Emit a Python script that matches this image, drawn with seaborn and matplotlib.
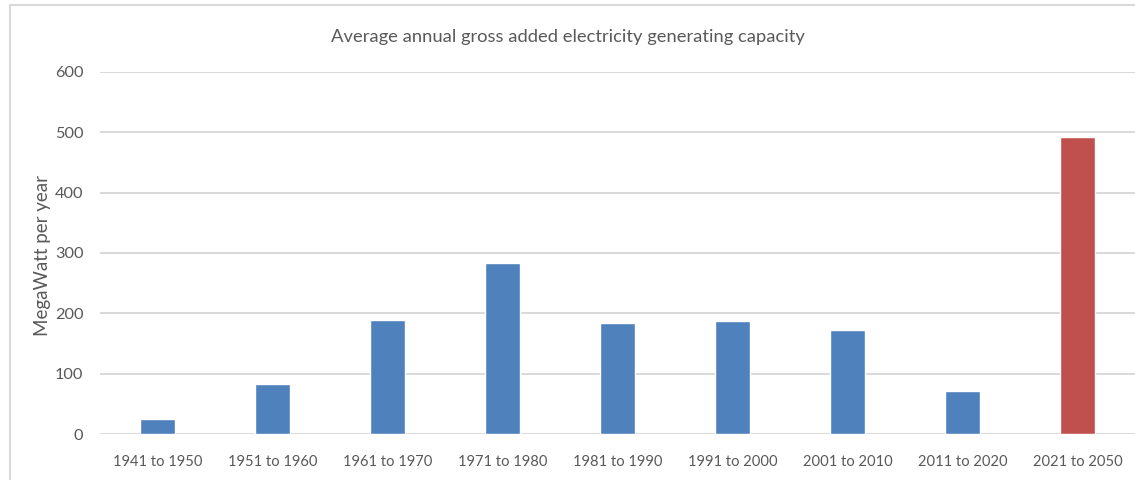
import matplotlib
matplotlib.use("Agg")
import matplotlib.pyplot as plt
import seaborn as sns
import pandas as pd
from matplotlib.patches import Rectangle

periods = ["1941 to 1950", "1951 to 1960", "1961 to 1970", "1971 to 1980",
           "1981 to 1990", "1991 to 2000", "2001 to 2010", "2011 to 2020",
           "2021 to 2050"]
capacity_mw = [25, 83, 189, 284, 184, 187, 172, 71, 493]
kind = ["historic"] * 8 + ["projected"]
colors = {"historic": "#4f81bd", "projected": "#c0504d"}

df = pd.DataFrame({"period": periods, "capacity": capacity_mw, "kind": kind})

sns.set_theme(style="white")
plt.rcParams["font.family"] = ["Lato", "DejaVu Sans"]
text_gray = "#595959"

fig = plt.figure(figsize=(11.35, 4.8), dpi=100)
ax = fig.add_axes([100 / 1135, 1 - 434 / 480, 1 - 100 / 1135, (434 - 72) / 480])

sns.barplot(data=df, x="period", y="capacity", hue="kind", palette=colors,
            saturation=1, dodge=False, width=0.31, legend=False, ax=ax, zorder=3)

ax.set_ylim(0, 600)
ax.set_yticks(range(0, 601, 100))
ax.set_xlim(-0.5, len(periods) - 0.5)
ax.yaxis.grid(True, color="#d9d9d9", linewidth=1.4, zorder=0)
ax.xaxis.grid(False)
for s in ax.spines.values():
    s.set_visible(False)
ax.tick_params(axis="both", length=0, colors=text_gray)
ax.tick_params(axis="y", pad=12, labelsize=11.8)
ax.tick_params(axis="x", pad=15, labelsize=10.6)
ax.set_xlabel("")
ax.set_ylabel("")

fig.text(43 / 1135, 1 - 255 / 480, "MegaWatt per year", rotation=90,
         ha="center", va="center", fontsize=13.5, color=text_gray)
fig.text(0.5, 1 - 37 / 480, "Average annual gross added electricity generating capacity",
         ha="center", va="center", fontsize=13.2, color=text_gray)

# light outer frame of the chart area
fig.patches.append(Rectangle((10 / 1135, -0.1), 1.2, 1 - 5 / 480 + 0.1,
                             transform=fig.transFigure, fill=False,
                             edgecolor="#d9d9d9", linewidth=1.5))

fig.savefig("out.png", dpi=100)
